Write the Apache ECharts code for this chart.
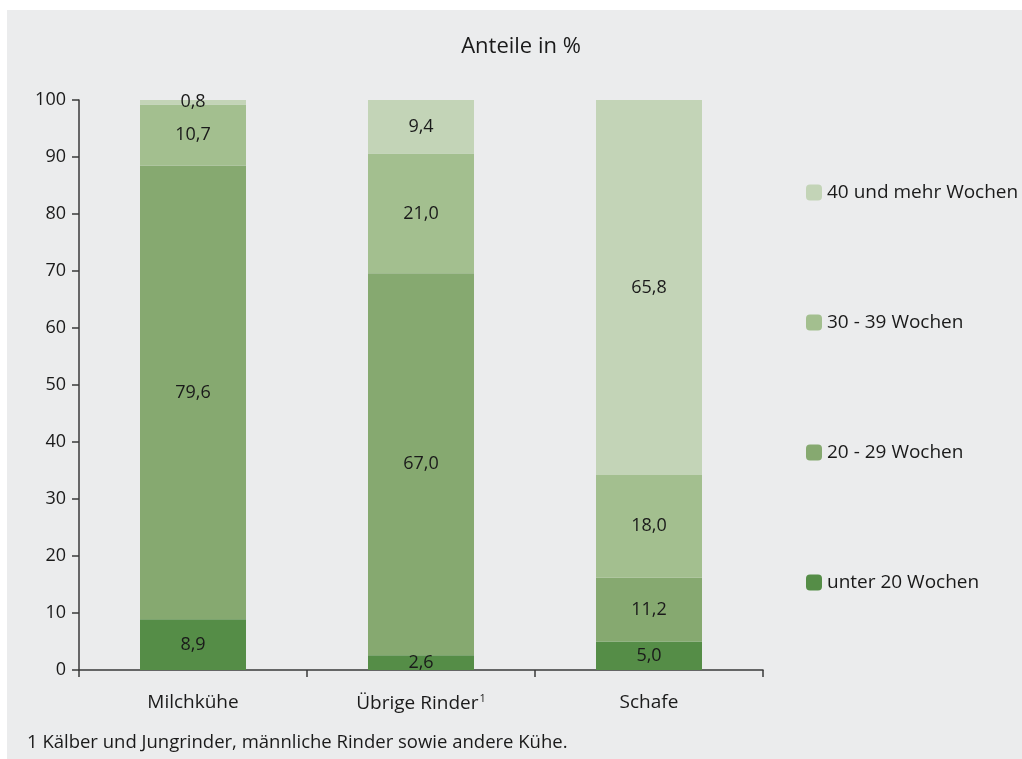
<!DOCTYPE html>
<html>
<head>
<meta charset="utf-8">
<script src="https://cdn.jsdelivr.net/npm/echarts@6/dist/echarts.min.js"></script>
<style>
  html, body { margin: 0; padding: 0; background: #ffffff; }
  #chart { width: 1022px; height: 759px; }
</style>
</head>
<body>
<div id="chart"></div>
<script>
// Categories along the x axis
const categories = ['Milchkühe', 'Übrige Rinder', 'Schafe'];
// Shares in percent per duration class
const unter20 = [8.9, 2.6, 5.0];
const w20bis29 = [79.6, 67.0, 11.2];
const w30bis39 = [10.7, 21.0, 18.0];
const w40plus = [0.8, 9.4, 65.8];
const seriesNames = ['unter 20 Wochen', '20 - 29 Wochen', '30 - 39 Wochen', '40 und mehr Wochen'];
const yTicks = [0, 10, 20, 30, 40, 50, 60, 70, 80, 90, 100];

const colors = ['#558d47', '#86a970', '#a3bf8f', '#c3d4b7'];
const values = [unter20, w20bis29, w30bis39, w40plus];
const font = '"Open Sans", "Noto Sans", sans-serif';
const textColor = '#1a1a1a';
const axisColor = '#3a3a3a';

const series = seriesNames.map((name, i) => ({
  name: name,
  type: 'bar',
  stack: 'total',
  barWidth: 106,
  data: values[i],
  itemStyle: { color: colors[i] },
  label: {
    show: true,
    position: 'inside',
    color: textColor,
    fontFamily: font,
    fontSize: 18,
    formatter: p => p.value.toFixed(1).replace('.', ',')
  },
  emphasis: { disabled: true }
}));

const chart = echarts.init(document.getElementById('chart'));
chart.setOption({
  animation: false,
  backgroundColor: '#ffffff',
  graphic: [
    { type: 'rect', left: 7, top: 10, shape: { width: 1015, height: 749 }, style: { fill: '#ebeced' }, z: -10 },
    { type: 'text', left: 27, top: 733, style: { text: '1 Kälber und Jungrinder, männliche Rinder sowie andere Kühe.', fill: textColor, font: '18.5px ' + font } }
  ],
  title: {
    text: 'Anteile in %',
    left: 516,
    top: 31,
    textAlign: 'center',
    textStyle: { color: textColor, fontFamily: font, fontSize: 22, fontWeight: 'normal' }
  },
  legend: {
    orient: 'vertical',
    left: 801,
    top: 178,
    itemWidth: 16,
    itemHeight: 16,
    itemGap: 111,
    data: seriesNames.slice().reverse(),
    textStyle: { color: textColor, fontFamily: font, fontSize: 19 },
    selectedMode: false
  },
  grid: { left: 79, top: 100, width: 684, height: 570, containLabel: false },
  xAxis: {
    type: 'category',
    data: categories,
    axisLine: { lineStyle: { color: axisColor, width: 1.5 } },
    axisTick: { show: true, alignWithLabel: false, length: 7, lineStyle: { color: axisColor, width: 1.5 } },
    axisLabel: {
      interval: 0,
      margin: 23,
      color: textColor,
      fontFamily: font,
      fontSize: 19,
      formatter: v => v === 'Übrige Rinder' ? v + '{sup|1}' : v,
      rich: { sup: { fontSize: 11, verticalAlign: 'top', padding: [0, 0, 10, 1], color: textColor, fontFamily: font } }
    }
  },
  yAxis: {
    type: 'value',
    min: yTicks[0],
    max: yTicks[yTicks.length - 1],
    interval: 10,
    axisLine: { show: true, lineStyle: { color: axisColor, width: 1.5 } },
    axisTick: { show: true, length: 7, lineStyle: { color: axisColor, width: 1.5 } },
    splitLine: { show: false },
    axisLabel: { margin: 13, color: textColor, fontFamily: font, fontSize: 18 }
  },
  series: series
});
</script>
</body>
</html>
